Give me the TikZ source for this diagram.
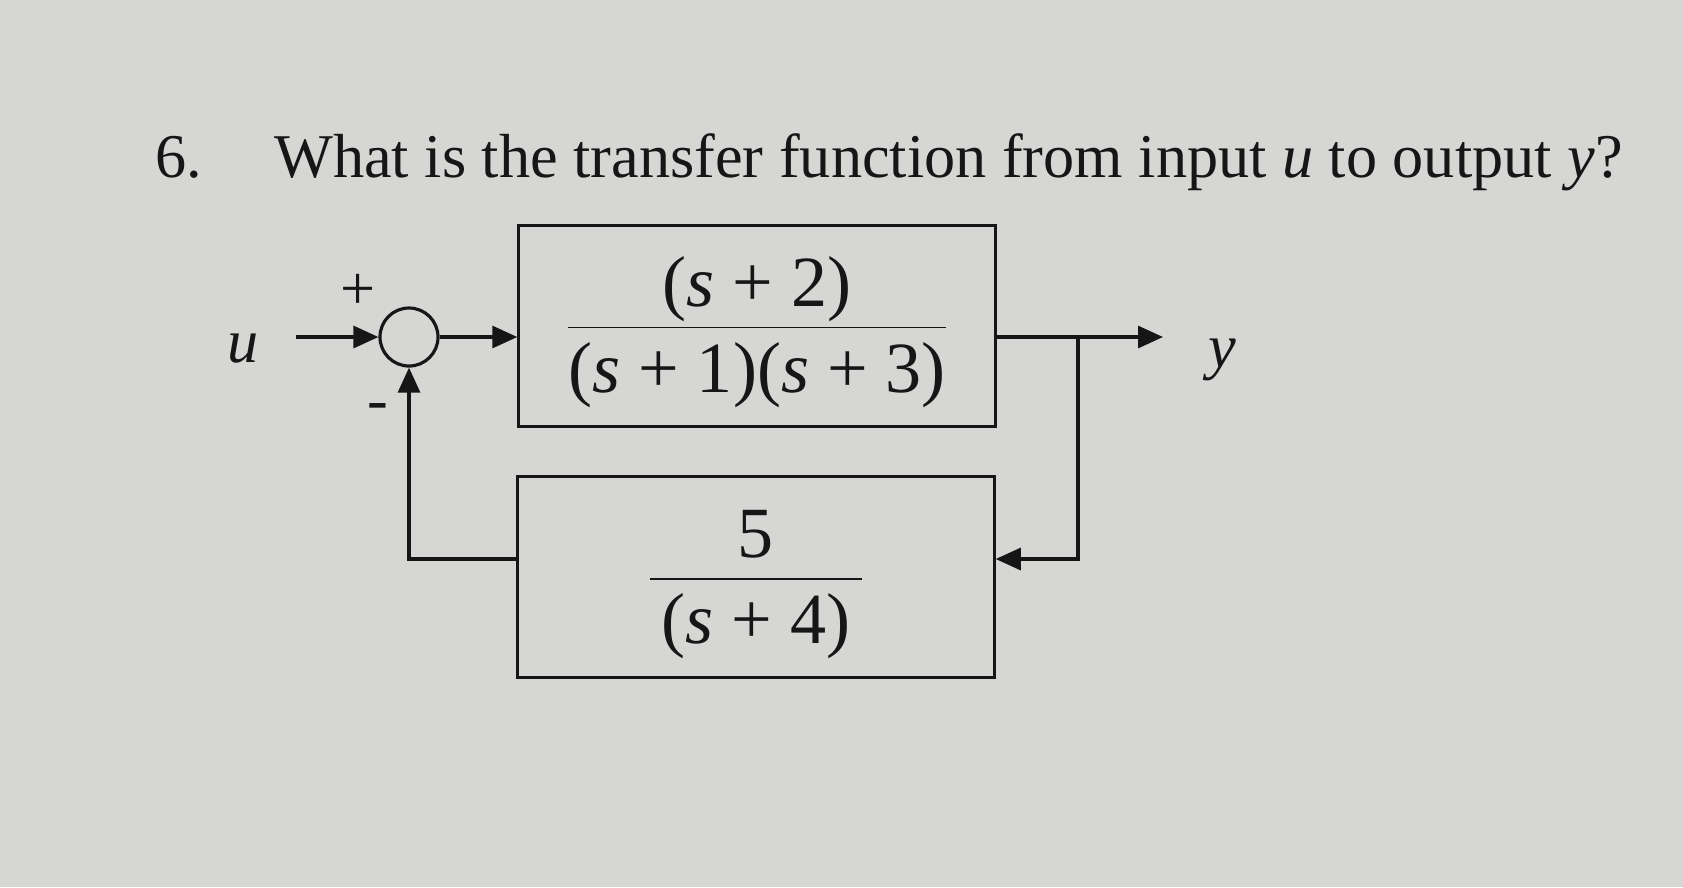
\documentclass[tikz,border=0pt]{standalone}
\usepackage{fontspec}
\setmainfont{Liberation Serif}
\usepackage{tikz}
\usetikzlibrary{
  arrows.meta,
  calc,
  positioning,
}
\definecolor{paper}{RGB}{214, 215, 212}
\definecolor{ink}{RGB}{22, 22, 22}
\tikzstyle{arrow} = [
  -{Triangle[length=0.25cm,width=0.22cm]},
  line width=0.9pt,
  draw=ink,
]
\tikzstyle{wire} = [line width=0.9pt, draw=ink]
\tikzstyle{block} = [
  rectangle,
  draw=ink,
  line width=0.9pt,
  minimum width=4.76cm,
  minimum height=2.01cm,
  inner sep=0pt,
  text height=0.7cm,
  text depth=0.3cm,
  font=\fontsize{20.5}{24}\selectfont,
]
\newcommand{\blockfrac}[2]{$\frac{\mbox{#1\rule[-0.19cm]{0pt}{0.19cm}}}{\mbox{\rule[-0.16cm]{0pt}{0.79cm}#2}}$}

\begin{document}
\begin{tikzpicture}[x=0.01cm, y=-0.01cm, font=\fontsize{17.7}{21}\selectfont, text=ink]

			\fill[paper] (0,0) rectangle (1683,887);
			\useasboundingbox (0,0) rectangle (1683,887);

			\node[anchor=base west] (qno) at (143,177) {6.};
			\node[anchor=base west] (qtext) at (262,177) {What is the transfer function from input \textit{u} to output \textit{y}?};

			\node[circle,draw=ink,line width=0.9pt,minimum size=0.58cm,inner sep=0pt] (sum) at (409,337) {};
			\node[block] (g1) at (757,326) {\blockfrac{(\textit{s} + 2)}{(\textit{s} + 1)(\textit{s} + 3)}};
			\node[block] (h1) at (756,577) {\blockfrac{5}{\hspace{0.12cm}(\textit{s} + 4)\hspace{0.12cm}}};

			\coordinate (in) at (296,337);
			\coordinate (split) at (1078,337);
			\coordinate (out) at (1163,337);
			\coordinate (fb) at (1078,559);

			\node (u) at (243,349) {\textit{u}};
			\node (y) at (1222,360) {\textit{y}};
			\node (plus) at (358,292) {+};
			\node (minus) at (378,412) {-};

			\draw[arrow] (in) -- (sum.west);
			\draw[arrow] (sum.east) -- (sum.east -| g1.west);
			\draw[arrow] (g1.east |- split) -- (out);
			\draw[arrow] (split) -- (fb) -- (fb -| h1.east);
			\draw[arrow] (h1.west |- fb) -| (sum.south);
      \end{tikzpicture}
\end{document}
